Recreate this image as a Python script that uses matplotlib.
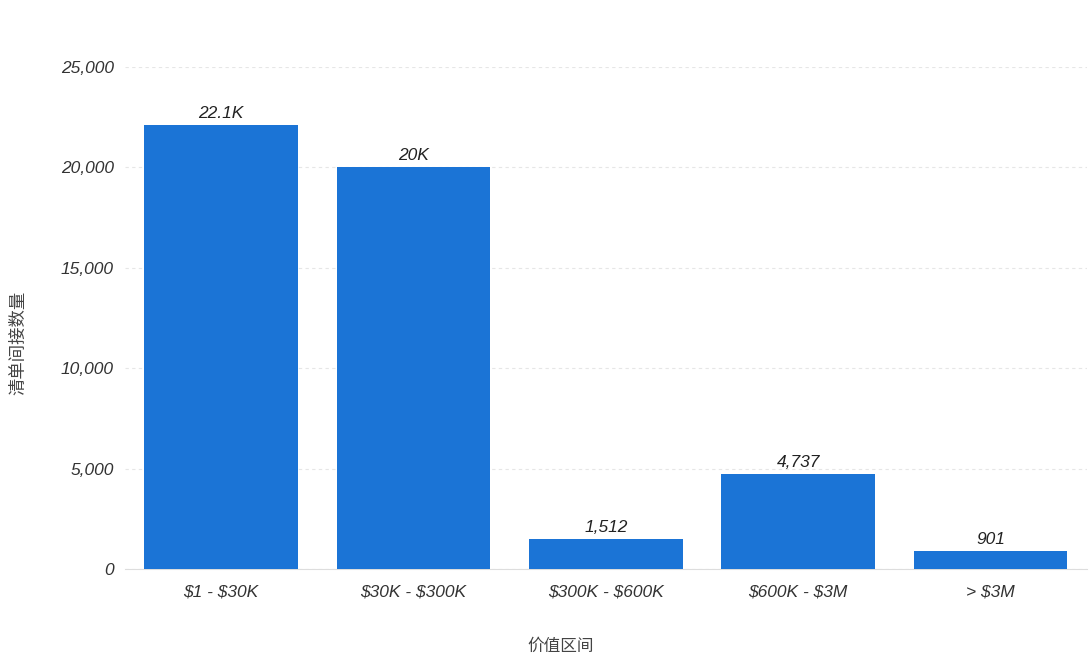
import matplotlib
matplotlib.use("Agg")
import matplotlib.pyplot as plt
from matplotlib.ticker import FuncFormatter

categories = ["$1 - $30K", "$30K - $300K", "$300K - $600K", "$600K - $3M", "> $3M"]
values = [22100, 20000, 1512, 4737, 901]
value_labels = ["22.1K", "20K", "1,512", "4,737", "901"]
y_ticks = [0, 5000, 10000, 15000, 20000, 25000]

plt.rcParams['font.family'] = ['Liberation Sans', 'Noto Sans CJK SC', 'DejaVu Sans']
plt.rcParams['text.parse_math'] = False

fig = plt.figure(figsize=(10.91, 6.59), dpi=100)
ax = fig.add_axes([0.1146, 0.1366, 0.8814, 0.7617])

x = list(range(len(categories)))
ax.bar(x, values, width=0.8, color="#1b74d6", zorder=3)
for xi, v, lab in zip(x, values, value_labels):
    ax.text(xi, v + 200, lab, ha="center", va="bottom", fontsize=12.5,
            style="italic", color="#222222")

ax.set_xlim(-0.5, 4.5)
ax.set_ylim(0, 25000)
ax.set_yticks(y_ticks)
ax.yaxis.set_major_formatter(FuncFormatter(lambda v, p: f"{int(v):,}"))
ax.set_xticks(x)
ax.set_xticklabels(categories)
for lbl in ax.get_xticklabels() + ax.get_yticklabels():
    lbl.set_fontstyle("italic")
    lbl.set_fontsize(12.5)
    lbl.set_color("#333333")

ax.tick_params(axis="y", length=0, pad=8)
ax.tick_params(axis="x", length=0, pad=11)
ax.grid(axis="y", color="#e6e6e6", linestyle=(0, (3, 3)), linewidth=0.8, zorder=0)
for s in ["top", "right", "left"]:
    ax.spines[s].set_visible(False)
ax.spines["bottom"].set_color("#dddddd")

fig.text(561 / 1091, 1 - 646 / 659, "价值区间", fontsize=12, color="#444444",
         family=['Noto Sans CJK SC', 'DejaVu Sans'], ha="center", va="center")
fig.text(18 / 1091, 1 - 343 / 659, "清单间接数量", fontsize=12.5, color="#444444",
         family=['Noto Sans CJK SC', 'DejaVu Sans'], ha="center", va="center",
         rotation=90)

fig.savefig("out.png", dpi=100, facecolor="white")
